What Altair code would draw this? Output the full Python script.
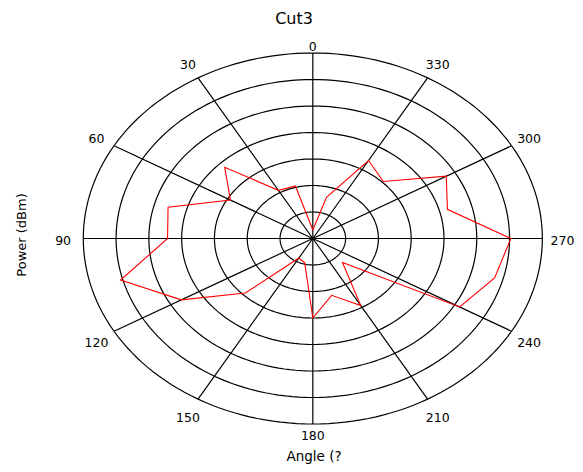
import altair as alt
import pandas as pd
import numpy as np

# ---- data ----
angles = list(range(0, 360, 15))
power = [0.32, 2.05, 2.1, 3.8, 2.9, 4.57, 4.43, 6.07, 4.63, 2.91, 0.85, 0.95,
         3.0, 2.22, 2.92, 1.28, 5.17, 5.74, 6.04, 4.25, 4.70, 3.04, 3.40, 1.61]
ring_levels = [1, 2, 3, 4, 5, 6, 7]
spoke_angles = list(range(0, 360, 30))
tick_labels = [str(a) for a in spoke_angles]
title_text = "Cut3"
x_title = "Angle  (?"
y_title = "Power  (dBm)"

RMAX = 7
W, H = 567, 456
XD = [-9.296, 7.996]
YD = [-8.510, 8.698]
FONT = "DejaVu Sans"


def px(r, a):
    return -np.asarray(r) * np.sin(np.radians(a))


def py(r, a):
    return np.asarray(r) * np.cos(np.radians(a))


xs = alt.Scale(domain=XD, nice=False, zero=False)
ys = alt.Scale(domain=YD, nice=False, zero=False)

# trace (closed)
tr_a = np.array(angles + [angles[0]], dtype=float)
tr_r = np.array(power + [power[0]], dtype=float)
trace = pd.DataFrame({"angle": tr_a, "power": tr_r,
                      "x": px(tr_r, tr_a), "y": py(tr_r, tr_a),
                      "order": range(len(tr_a))})

# rings
th = np.arange(0, 361, 2, dtype=float)
rings = pd.concat([
    pd.DataFrame({"ring": lv, "i": range(len(th)), "x": px(lv, th), "y": py(lv, th)})
    for lv in ring_levels
])

# spokes
sa = np.array(spoke_angles, dtype=float)
spokes = pd.DataFrame({"x": 0.0, "y": 0.0, "x2": px(RMAX, sa), "y2": py(RMAX, sa)})

# tick labels, placed just outside the outer ring
s = np.abs(np.sin(np.radians(sa)))
ky = 1.05 + 0.05 * np.minimum(1.0, 2 * s)
labs = pd.DataFrame({"label": tick_labels,
                     "x": -(RMAX * 1.088) * np.sin(np.radians(sa)),
                     "y": RMAX * ky * np.cos(np.radians(sa)) - 0.11})

ring_layer = alt.Chart(rings).mark_line(color="black", strokeWidth=1.2).encode(
    x=alt.X("x:Q", scale=xs, axis=None),
    y=alt.Y("y:Q", scale=ys, axis=None),
    detail="ring:N",
    order="i:Q",
)

spoke_layer = alt.Chart(spokes).mark_rule(color="black", strokeWidth=1.2).encode(
    x=alt.X("x:Q", scale=xs, axis=None),
    y=alt.Y("y:Q", scale=ys, axis=None),
    x2="x2:Q",
    y2="y2:Q",
)

trace_layer = alt.Chart(trace).mark_line(color="#ff0000", strokeWidth=1.1).encode(
    x=alt.X("x:Q", scale=xs, axis=None),
    y=alt.Y("y:Q", scale=ys, axis=None),
    order="order:Q",
)

label_layer = alt.Chart(labs).mark_text(font=FONT, fontSize=12.5, color="black",
                                        align="center", baseline="middle").encode(
    x=alt.X("x:Q", scale=xs, axis=None),
    y=alt.Y("y:Q", scale=ys, axis=None),
    text="label:N",
)

title_layer = alt.Chart(pd.DataFrame({"t": [title_text]})).mark_text(
    font=FONT, fontSize=16, color="black", align="center", baseline="alphabetic"
).encode(x=alt.value(286), y=alt.value(16), text="t:N")

xt_layer = alt.Chart(pd.DataFrame({"t": [x_title]})).mark_text(
    font=FONT, fontSize=13.5, color="black", align="center", baseline="middle"
).encode(x=alt.value(306), y=alt.value(449), text="t:N")

yt_layer = alt.Chart(pd.DataFrame({"t": [y_title]})).mark_text(
    font=FONT, fontSize=13, color="black", align="center", baseline="middle", angle=270
).encode(x=alt.value(14), y=alt.value(227), text="t:N")

chart = alt.layer(
    ring_layer, spoke_layer, trace_layer, label_layer, title_layer, xt_layer, yt_layer
).properties(
    width=W, height=H, padding=0,
    autosize=alt.AutoSizeParams(type="none"),
).configure_view(stroke=None)

chart.save("out.html", embed_options={"renderer": "svg", "actions": False})
